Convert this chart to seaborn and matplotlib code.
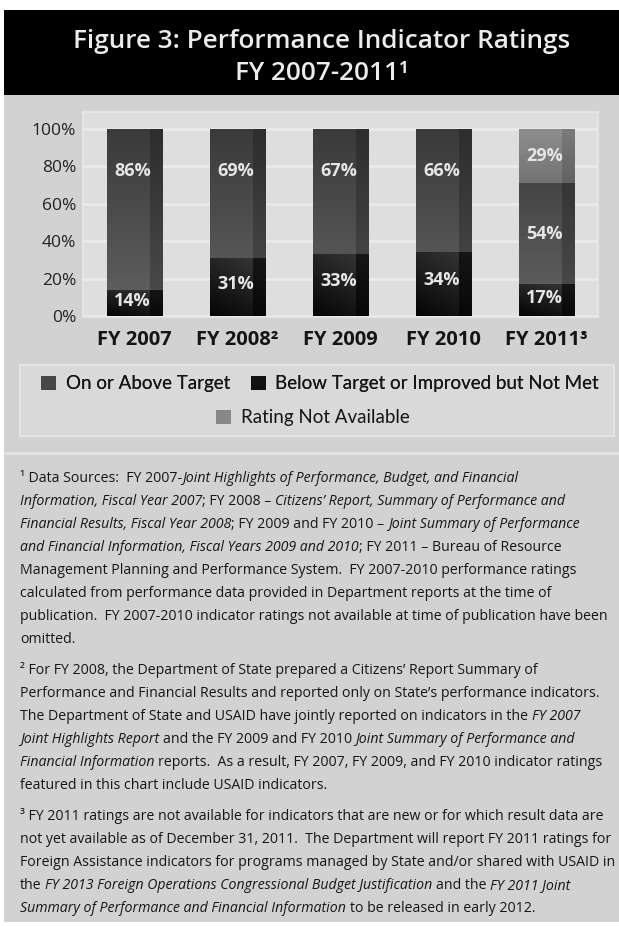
import numpy as np
import pandas as pd
import matplotlib
matplotlib.use("Agg")
import matplotlib.pyplot as plt
import seaborn as sns
from matplotlib.patches import Rectangle
from matplotlib import font_manager

# ---------------- data ----------------
years = ["FY 2007", "FY 2008\u00b2", "FY 2009", "FY 2010", "FY 2011\u00b3"]
on_above = [86, 69, 67, 66, 54]
below = [14, 31, 33, 34, 17]
not_avail = [0, 0, 0, 0, 29]
series_names = ["On or Above Target", "Below Target or Improved but Not Met",
                "Rating Not Available"]
yticks = [0, 20, 40, 60, 80, 100]
title_lines = ["Figure 3: Performance Indicator Ratings", "FY 2007-2011\u00b9"]

footnotes = [
    [
        "\u00b9 Data Sources:  FY 2007-*Joint Highlights of Performance, Budget, and Financial*",
        "*Information, Fiscal Year 2007*; FY 2008 \u2013 *Citizens\u2019 Report, Summary of Performance and*",
        "*Financial Results, Fiscal Year 2008*; FY 2009 and FY 2010 \u2013 *Joint Summary of Performance*",
        "*and Financial Information, Fiscal Years 2009 and 2010*; FY 2011 \u2013 Bureau of Resource",
        "Management Planning and Performance System.  FY 2007-2010 performance ratings",
        "calculated from performance data provided in Department reports at the time of",
        "publication.  FY 2007-2010 indicator ratings not available at time of publication have been",
        "omitted.",
    ],
    [
        "\u00b2 For FY 2008, the Department of State prepared a Citizens\u2019 Report Summary of",
        "Performance and Financial Results and reported only on State\u2019s performance indicators.",
        "The Department of State and USAID have jointly reported on indicators in the *FY 2007*",
        "*Joint Highlights Report* and the FY 2009 and FY 2010 *Joint Summary of Performance and*",
        "*Financial Information* reports.  As a result, FY 2007, FY 2009, and FY 2010 indicator ratings",
        "featured in this chart include USAID indicators.",
    ],
    [
        "\u00b3 FY 2011 ratings are not available for indicators that are new or for which result data are",
        "not yet available as of December 31, 2011.  The Department will report FY 2011 ratings for",
        "Foreign Assistance indicators for programs managed by State and/or shared with USAID in",
        "the *FY 2013 Foreign Operations Congressional Budget Justification* and the *FY 2011 Joint*",
        "*Summary of Performance and Financial Information* to be released in early 2012.",
    ],
]

# ---------------- fonts ----------------
def has_font(name):
    try:
        font_manager.findfont(font_manager.FontProperties(family=name),
                              fallback_to_default=False)
        return True
    except Exception:
        return False

MAIN = "Open Sans" if has_font("Open Sans") else "DejaVu Sans"
NOTE = "Liberation Sans Narrow" if has_font("Liberation Sans Narrow") else MAIN
LEG = "Lato" if has_font("Lato") else MAIN

sns.set_theme(style="white")
plt.rcParams["font.family"] = [MAIN, "DejaVu Sans"]

W, H = 619, 926
fig = plt.figure(figsize=(W / 100, H / 100), dpi=100, facecolor="white")


def fx(x):
    return x / W


def fy(y):
    return 1 - y / H


def frect(x0, y0, x1, y1, **kw):
    r = Rectangle((fx(x0), fy(y1)), (x1 - x0) / W, (y1 - y0) / H,
                  transform=fig.transFigure, **kw)
    fig.add_artist(r)
    return r


PANEL = "#d2d2d2"
frect(4, 10, 619, 922, facecolor=PANEL, edgecolor="none", zorder=-20)
frect(4, 10, 619, 95, facecolor="black", edgecolor="none", zorder=-19)
frect(20, 365, 614, 436, facecolor="#d9d9d9", edgecolor="#e4e4e4", lw=1.5, zorder=-18)
frect(4, 452, 619, 455, facecolor="#e2e2e2", edgecolor="none", zorder=-18)

# title
fig.text(fx(322), fy(42), title_lines[0], ha="center", va="center", color="#ececec",
         fontsize=18.8, fontweight="semibold")
fig.text(fx(322), fy(73), title_lines[1], ha="center", va="center", color="#ececec",
         fontsize=18.8, fontweight="semibold")

# ---------------- chart ----------------
ax = fig.add_axes([fx(83), fy(317), (598 - 83) / W, (317 - 112) / H])
ax.set_facecolor("#dedede")

df = pd.DataFrame({"year": years, "on_above": on_above, "below": below,
                   "not_avail": not_avail})
df["lvl_on"] = df["below"] + df["on_above"]
df["lvl_na"] = df["lvl_on"] + df["not_avail"]

NA_C, ON_C, BL_C = "#878787", "#474747", "#111111"
BAR_W = 0.535
layers = [("lvl_na", NA_C, series_names[2]),
          ("lvl_on", ON_C, series_names[0]),
          ("below", BL_C, series_names[1])]
for i, (col, c, lab) in enumerate(layers):
    sns.barplot(data=df, x="year", y=col, color=c, saturation=1, width=BAR_W,
                errorbar=None, ax=ax, label=lab, linewidth=0, zorder=3 + i)


def layer_color(kind, yabs, xfrac, top):
    if kind == "na":
        t = np.clip((yabs - 68) / 32, 0, 1)
        v = 0x70 + (0x8e - 0x70) * t
        strip = 0.86
    elif kind == "on":
        t = yabs / 100.0
        v = 0x62 + (0x3a - 0x62) * t
        strip = 0.78
    else:
        t = 0.65 * (yabs / max(top, 1)) + 0.35 * xfrac
        v = 0x04 + (0x38 - 0x04) * np.clip(t, 0, 1)
        strip = 0.4
    v = v * np.where(xfrac > 0.78, strip, 1.0)
    return np.clip(v / 255.0, 0, 1)


kinds = ["na", "on", "below"]
for i, cont in enumerate(ax.containers):
    for p in cont.patches:
        x0, y0 = p.get_x(), p.get_y()
        w, h = p.get_width(), p.get_height()
        if h <= 0:
            continue
        ys = np.linspace(y0, y0 + h, 80)
        xs = np.linspace(0, 1, 120)
        XX, YY = np.meshgrid(xs, ys)
        g = layer_color(kinds[i], YY, XX, y0 + h)
        img = np.dstack([g, g, g])
        im = ax.imshow(img, extent=(x0, x0 + w, y0, y0 + h), origin="lower",
                       aspect="auto", interpolation="nearest",
                       zorder=p.get_zorder() + 0.1)
        im.set_clip_path(p)

# value labels
lab_kw = dict(ha="center", va="center", color="#e6e6e6", fontsize=13,
              fontweight="bold", zorder=20)
for j in range(len(years)):
    b, o, n = below[j], on_above[j], not_avail[j]
    ax.text(j - 0.02, b * 0.56, f"{b}%", **lab_kw)
    top_on = b + o
    y_on = top_on - 22.5 if o > 60 else b + o / 2
    ax.text(j - 0.02, y_on, f"{o}%", **lab_kw)
    if n > 0:
        ax.text(j - 0.02, top_on + n / 2, f"{n}%", **lab_kw)

ax.set_xlim(-0.5, len(years) - 0.5)
ax.set_ylim(-0.5, 109.1)
ax.set_yticks(yticks)
ax.set_yticklabels([f"{v}%" for v in yticks], fontsize=12.5, color="#222222")
ax.set_xticks(range(len(years)))
ax.set_xticklabels(years, fontsize=14.5, fontweight="bold", color="#151515")
ax.tick_params(axis="y", length=0, pad=5)
ax.tick_params(axis="x", length=0, pad=9)
ax.set_xlabel("")
ax.set_ylabel("")
ax.grid(axis="y", color="#ececec", lw=1.8)
ax.grid(axis="x", visible=False)
ax.set_axisbelow(True)
for s in ax.spines.values():
    s.set_color("#e8e8e8")
    s.set_linewidth(1.2)
leg = ax.get_legend()
if leg is not None:
    leg.remove()

# ---------------- legend ----------------
handles, labels = ax.get_legend_handles_labels()
hmap = dict(zip(labels, handles))
leg_kw = dict(loc="center", frameon=False, handlelength=0.8, handleheight=0.8,
              handletextpad=0.5, columnspacing=1.1, borderpad=0,
              prop={"family": LEG, "size": 13.5}, labelcolor="#151515")
l1 = fig.legend([hmap[series_names[0]], hmap[series_names[1]]],
                series_names[:2], ncol=2, bbox_to_anchor=(fx(320), fy(384)), **leg_kw)
fig.add_artist(l1)
l2 = fig.legend([hmap[series_names[2]]], series_names[2:], ncol=1,
                bbox_to_anchor=(fx(313), fy(418)), **leg_kw)

# ---------------- footnotes ----------------
renderer = fig.canvas.get_renderer()


def adv(s, **fp):
    t1 = fig.text(0, 0, "|" + s + "|", **fp)
    t2 = fig.text(0, 0, "||", **fp)
    w = t1.get_window_extent(renderer).width - t2.get_window_extent(renderer).width
    t1.remove()
    t2.remove()
    return w


def line_parts(line):
    out = []
    for k, part in enumerate(line.split("*")):
        if part:
            out.append((part, "italic" if k % 2 else "normal"))
    return out


def measure(line, size):
    tot = 0.0
    for part, style in line_parts(line):
        fp = dict(fontsize=size, family=NOTE, style=style)
        sw = adv(" ", **fp)
        lead = len(part) - len(part.lstrip(" "))
        trail = len(part) - len(part.rstrip(" "))
        core = part.strip(" ")
        tot += (lead + trail) * sw
        if core:
            tot += adv(core, **fp)
    return tot


def draw(line, x, y, size):
    cur = x
    for part, style in line_parts(line):
        fp = dict(fontsize=size, family=NOTE, style=style)
        sw = adv(" ", **fp)
        lead = len(part) - len(part.lstrip(" "))
        trail = len(part) - len(part.rstrip(" "))
        core = part.strip(" ")
        cur += lead * sw
        if core:
            fig.text(fx(cur), fy(y), core, ha="left", va="baseline",
                     color="#161616", **fp)
            cur += adv(core, **fp)
        cur += trail * sw


base = 10.0
maxw = max(measure(l, base) for para in footnotes for l in para)
size = base * 592.0 / maxw

li = 0
for pi, para in enumerate(footnotes):
    for line in para:
        ymid = 477 + 23 * li + 8 * pi
        draw(line, 20, ymid + 5, size)
        li += 1

fig.savefig("out.png", dpi=100, facecolor="white")
